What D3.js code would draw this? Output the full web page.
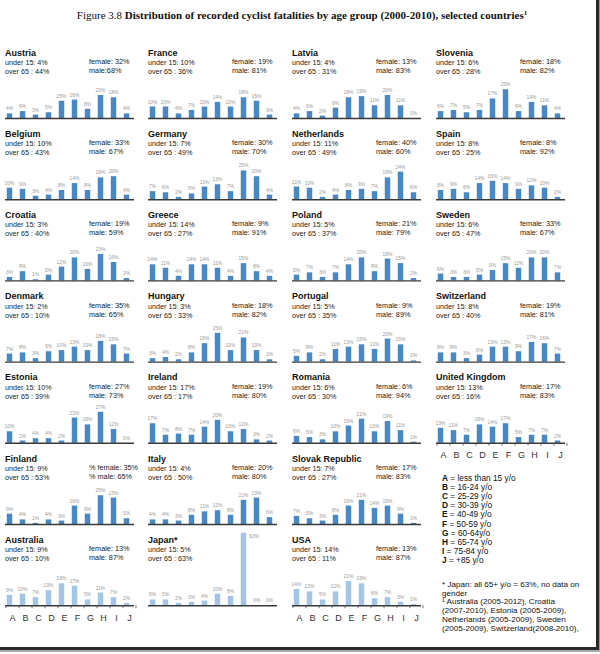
<!DOCTYPE html>
<html><head><meta charset="utf-8">
<script src="https://cdn.jsdelivr.net/npm/d3@7"></script>
<style>html,body{margin:0;padding:0;background:#fff}svg{display:block}</style>
</head><body>
<script>
// ---------- DATA ----------
const ageGroups = ["A","B","C","D","E","F","G","H","I","J"];
const countries = ["Austria","France","Latvia","Slovenia",
  "Belgium","Germany","Netherlands","Spain",
  "Croatia","Greece","Poland","Sweden",
  "Denmark","Hungary","Portugal","Switzerland",
  "Estonia","Ireland","Romania","United Kingdom",
  "Finland","Italy","Slovak Republic",
  "Australia","Japan*","USA"];
const under15 = [4,10,4,6, 10,7,11,8, 3,14,5,6, 2,3,5,8, 10,17,6,13, 9,4,7, 9,5,14];
const over65  = [44,36,31,28, 43,49,49,25, 40,27,37,47, 10,33,35,40, 39,17,30,16, 53,50,27, 10,63,11];
const femaleLabels = ["female: 32%","female: 19%","female: 13%","female: 18%",
  "female: 33%","female: 30%","female: 40%","female: 8%",
  "female: 19%","female: 9%","female: 21%","female: 33%",
  "female: 35%","female: 18%","female: 9%","female: 19%",
  "female: 27%","female: 19%","female: 6%","female: 17%",
  "% female: 35%","female: 20%","female: 17%",
  "female: 13%","","female: 13%"];
const maleLabels = ["male:68%","male: 81%","male: 83%","male: 82%",
  "male: 67%","male: 70%","male: 60%","male: 92%",
  "male: 59%","male: 91%","male: 79%","male: 67%",
  "male: 65%","male: 82%","male: 89%","male: 81%",
  "male: 73%","male: 80%","male: 94%","male: 83%",
  "% male: 65%","male: 80%","male: 83%",
  "male: 87%","","male: 87%"];
const Austria = [4,6,3,5,15,16,8,20,18,4];
const France = [10,10,4,7,10,14,10,18,15,3];
const Latvia = [4,6,2,9,18,19,11,20,11,0];
const Slovenia = [6,7,5,7,17,25,6,14,11,4];
const Belgium = [10,9,3,4,8,14,8,19,20,4];
const Germany = [7,6,2,5,11,13,7,25,20,4];
const Netherlands = [11,10,2,4,8,9,7,19,24,6];
const Spain = [8,9,6,14,16,14,9,12,10,2];
const Croatia = [3,8,1,5,12,20,10,23,16,2];
const Greece = [14,11,4,14,14,11,4,15,8,4];
const Poland = [5,7,3,7,14,20,8,19,15,2];
const Sweden = [6,3,3,5,9,15,11,20,20,7];
const Denmark = [7,8,3,9,10,13,10,18,15,7];
const Hungary = [3,4,2,8,16,25,10,21,10,2];
const Portugal = [5,8,2,11,13,15,11,20,15,1];
const Switzerland = [8,8,3,6,13,13,9,17,16,7];
const Estonia = [10,2,4,4,2,22,16,27,12,0];
const Ireland = [17,7,8,7,14,20,10,12,3,2];
const Romania = [6,5,3,10,15,21,10,19,11,1];
const UnitedKingdom = [13,11,7,16,14,17,5,7,7,2];
const Finland = [9,4,1,4,3,16,9,25,23,5];
const Italy = [4,4,3,8,11,12,8,21,23,6];
const SlovakRepublic = [7,5,3,8,16,21,14,16,9,1];
const Australia = [9,10,7,13,19,17,5,11,7,2];
const Japan = [5,5,2,3,4,10,8,63,0,0];
const USA = [14,12,5,12,21,19,6,7,3,1];
const series = [Austria,France,Latvia,Slovenia,Belgium,Germany,Netherlands,Spain,
  Croatia,Greece,Poland,Sweden,Denmark,Hungary,Portugal,Switzerland,
  Estonia,Ireland,Romania,UnitedKingdom,Finland,Italy,SlovakRepublic,
  Australia,Japan,USA];
const withAxis = ["United Kingdom","Australia","USA"];
const lightPanels = ["Australia","Japan*","USA"];
const legendLines = [["A","less than 15 y/o"],["B","16-24  y/o"],["C","25-29  y/o"],["D","30-39  y/o"],
  ["E","40-49  y/o"],["F","50-59  y/o"],["G","60-64y/o"],["H","65-74  y/o"],["I","75-84  y/o"],["J","+85 y/o"]];
const footLines = ["* Japan: all 65+ y/o  = 63%, no data on","gender","\u00B9 Australia (2005-2012), Croatia",
  "(2007-2010), Estonia (2005-2009),","Netherlands (2005-2009), Sweden","(2005-2009), Switzerland(2008-2010),"];

// ---------- LAYOUT ----------
const W = 600, H = 654;
const svg = d3.select("body").append("svg").attr("width", W).attr("height", H);
svg.append("rect").attr("width", W).attr("height", H).attr("fill", "#fff");

const sans = "'Liberation Sans', Arial, Helvetica, sans-serif";
const serif = "'Liberation Serif', 'Times New Roman', serif";

// title
const title = svg.append("text").attr("x", 302).attr("y", 19).attr("text-anchor", "middle")
  .attr("font-family", serif).attr("font-size", 11).attr("fill", "#111");
title.append("tspan").text("Figure 3.8  ");
title.append("tspan").attr("font-weight", "bold").text("Distribution of recorded cyclist fatalities by age group (2000-2010), selected countries");
title.append("tspan").attr("font-weight", "bold").attr("font-size", 7).attr("dy", -4).text("1");

const colX = [5, 148, 292, 436];
const row0 = 55.5, rowStep = 81.2;
const h = d3.scaleLinear().domain([0, 63]).range([0, 63 * 1.15]);

countries.forEach((name, p) => {
  const r = p < 23 ? Math.floor(p / 4) : 6;
  const c = p < 23 ? p % 4 : p - 23;
  const x0 = colX[c];
  const ny = row0 + r * rowStep;
  const base = ny + 62.5;
  const g = svg.append("g");
  g.append("text").attr("x", x0).attr("y", ny).attr("font-family", sans).attr("font-weight", "bold")
    .attr("font-size", 9).attr("fill", "#111").text(name);
  g.append("text").attr("x", x0).attr("y", ny + 9.5).attr("font-family", sans).attr("font-size", 7.2)
    .attr("fill", "#222").text("under 15: " + under15[p] + "%");
  g.append("text").attr("x", x0).attr("y", ny + 18.5).attr("font-family", sans).attr("font-size", 7.2)
    .attr("fill", "#222").text("over 65 : " + over65[p] + "%");
  g.append("text").attr("x", x0 + 84).attr("y", ny + 8.5).attr("font-family", sans).attr("font-size", 7.3)
    .attr("fill", "#222").text(femaleLabels[p]);
  g.append("text").attr("x", x0 + 84).attr("y", ny + 17.5).attr("font-family", sans).attr("font-size", 7.3)
    .attr("fill", "#222").text(maleLabels[p]);

  const x = d3.scaleBand().domain(ageGroups).range([x0 - 2, x0 + 128]).paddingInner(0.58).paddingOuter(0.29);
  const light = lightPanels.includes(name);
  const vals = series[p];
  g.selectAll("rect.bar").data(vals).join("rect").attr("class", "bar")
    .attr("x", (d, i) => x(ageGroups[i])).attr("width", x.bandwidth())
    .attr("y", d => base - h(d)).attr("height", d => h(d))
    .attr("fill", light ? "#a3c5e6" : "#4788c5");
  g.selectAll("text.val").data(vals).join("text").attr("class", "val")
    .attr("x", (d, i) => (d > 40) ? x(ageGroups[i]) + x.bandwidth() + 3 : x(ageGroups[i]) + x.bandwidth() / 2)
    .attr("y", d => (d > 40) ? base - h(d) + 5 : base - h(d) - 3)
    .attr("text-anchor", d => d > 40 ? "start" : "middle")
    .attr("font-family", sans).attr("font-size", 4.9).attr("fill", "#9a9a9a")
    .text(d => d + "%");

  if (withAxis.includes(name)) {
    const xa = d3.scaleBand().domain(ageGroups).range([x0 + 1, x0 + 131]);
    const ax = g.append("g").attr("transform", `translate(0,${base})`)
      .call(d3.axisBottom(xa).tickSize(0).tickPadding(9));
    ax.select(".domain").remove();
    ax.selectAll("text").attr("font-family", sans).attr("font-size", 9).attr("fill", "#333");
    g.selectAll("line.tk").data(d3.range(11)).join("line").attr("class", "tk")
      .attr("x1", i => x0 + 1 + i * xa.step()).attr("x2", i => x0 + 1 + i * xa.step())
      .attr("y1", base).attr("y2", base + 3).attr("stroke", "#555").attr("stroke-width", 0.8);
  }
  g.append("line").attr("x1", x0).attr("x2", x0 + 129).attr("y1", base + 0.5).attr("y2", base + 0.5)
    .attr("stroke", "#3a3a3a").attr("stroke-width", 1.4);
});

// legend
const lg = svg.append("g").attr("font-family", sans).attr("font-size", 8.3).attr("fill", "#111");
legendLines.forEach((l, i) => {
  const t = lg.append("text").attr("x", 442).attr("y", 481 + i * 9.1);
  t.append("tspan").attr("font-weight", "bold").text(l[0]);
  t.append("tspan").text(" = " + l[1]);
});
footLines.forEach((l, i) => {
  lg.append("text").attr("x", 442).attr("y", 587 + i * 8.7).attr("font-size", 8.1).text(l);
});

// frame (right and bottom edge with shadow)
svg.append("rect").attr("x", 596).attr("y", 0).attr("width", 3).attr("height", 651).attr("fill", "#2a2a2a");
svg.append("rect").attr("x", 0).attr("y", 647).attr("width", 599).attr("height", 3).attr("fill", "#2a2a2a");
svg.append("rect").attr("x", 599).attr("y", 0).attr("width", 1).attr("height", 652).attr("fill", "#999");
svg.append("rect").attr("x", 0).attr("y", 650).attr("width", 600).attr("height", 2).attr("fill", "#aaa");
</script>
</body></html>
